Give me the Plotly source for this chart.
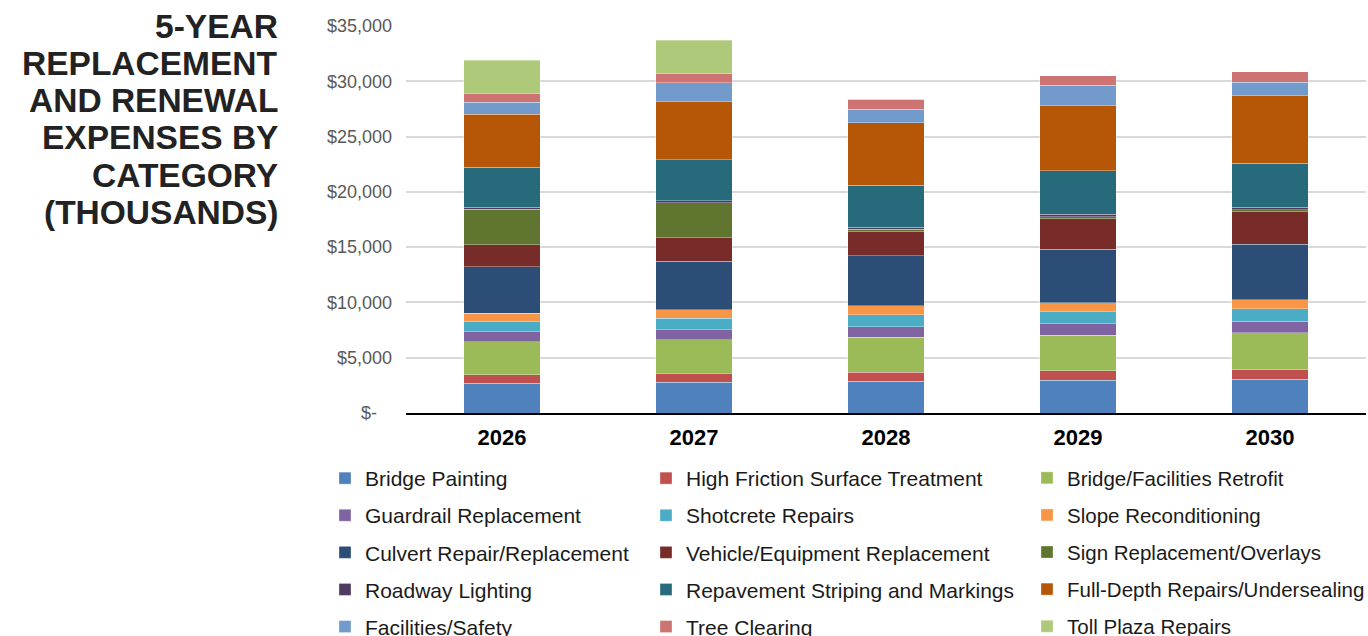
import plotly.graph_objects as go

years = ["2026", "2027", "2028", "2029", "2030"]

categories = [
    "Bridge Painting", "High Friction Surface Treatment", "Bridge/Facilities Retrofit",
    "Guardrail Replacement", "Shotcrete Repairs", "Slope Reconditioning",
    "Culvert Repair/Replacement", "Vehicle/Equipment Replacement", "Sign Replacement/Overlays",
    "Roadway Lighting", "Repavement Striping and Markings", "Full-Depth Repairs/Undersealing",
    "Facilities/Safety", "Tree Clearing", "Toll Plaza Repairs",
]

bridge_painting = [2700, 2770, 2850, 2980, 3070]
high_friction = [750, 810, 850, 840, 840]
bridge_retrofit = [2980, 3040, 3130, 3230, 3370]
guardrail = [910, 930, 970, 1040, 1030]
shotcrete = [930, 1000, 1080, 1090, 1140]
slope = [750, 780, 810, 780, 810]
culvert = [4210, 4400, 4550, 4850, 5010]
vehicle = [1990, 2110, 2160, 2770, 2940]
sign = [3230, 3160, 220, 180, 180]
roadway_lighting = [150, 210, 180, 220, 220]
repavement = [3610, 3680, 3800, 3910, 3970]
full_depth = [4790, 5270, 5650, 5900, 6110]
facilities_safety = [1090, 1690, 1230, 1840, 1210]
tree_clearing = [840, 840, 900, 870, 960]
toll_plaza = [2980, 3040, 0, 0, 0]

series = [bridge_painting, high_friction, bridge_retrofit, guardrail, shotcrete, slope,
          culvert, vehicle, sign, roadway_lighting, repavement, full_depth,
          facilities_safety, tree_clearing, toll_plaza]

colors = ["#4F81BD", "#C0504D", "#9BBB59", "#8064A2", "#4BACC6", "#F79646",
          "#2C4D75", "#772C2A", "#5F7530", "#4D3B62", "#276A7C", "#B65708",
          "#729ACA", "#CD7371", "#AFC97A"]

y_tickvals = [0, 5000, 10000, 15000, 20000, 25000, 30000, 35000]
y_ticktext = ["$-\u00a0\u00a0\u00a0", "$5,000", "$10,000", "$15,000", "$20,000",
              "$25,000", "$30,000", "$35,000"]

title_lines = ["5-YEAR", "REPLACEMENT", "AND RENEWAL", "EXPENSES BY", "CATEGORY", "(THOUSANDS)"]

FONT = "Liberation Sans, Arial, Helvetica, sans-serif"
W, H = 1368, 636
ML, MR, MT, MB = 406, 2, 26, 223
PW, PH = W - ML - MR, H - MT - MB

def px_x(p):
    return (p - ML) / PW

def px_y(p):
    return (H - MB - p) / PH

fig = go.Figure()
legend_ids = ["legend", "legend2", "legend3"]
for i, (name, vals, col) in enumerate(zip(categories, series, colors)):
    fig.add_trace(go.Bar(
        x=years, y=vals, name=name,
        marker=dict(color=col, line=dict(color="rgba(255,255,255,0.55)", width=0.6)),
        legend=legend_ids[i % 3], legendgroup=name,
    ))

def legend_cfg(x_px, font_size, gap):
    return dict(
        x=px_x(x_px), y=px_y(458),
        orientation="v", xanchor="left", yanchor="top",
        font=dict(family=FONT, size=font_size, color="#1a1a1a"),
        tracegroupgap=gap, traceorder="grouped", bgcolor="rgba(0,0,0,0)",
    )

fig.update_layout(
    legend=legend_cfg(325, 21, 6.8),
    legend2=legend_cfg(646, 21, 6.8),
    legend3=legend_cfg(1027, 20.5, 7.45),
)

title_y = [26, 63, 100, 137.5, 175, 212]
for line, yy in zip(title_lines, title_y):
    fig.add_annotation(
        text=f"<b>{line}</b>", x=px_x(280), y=px_y(yy), xref="paper", yref="paper",
        xanchor="right", yanchor="middle", showarrow=False,
        font=dict(family=FONT, size=33.5, color="#222222"),
    )

fig.update_layout(
    width=W, height=H,
    margin=dict(l=ML, r=MR, t=MT, b=MB, pad=0, autoexpand=False),
    paper_bgcolor="white", plot_bgcolor="white",
    barmode="stack", bargap=0.604,
    showlegend=True,
    xaxis=dict(
        type="category", showgrid=False, showline=True, linecolor="#000000", linewidth=2,
        tickfont=dict(family=FONT, size=22, color="#000000", weight="bold"),
        ticks="", ticklabelstandoff=4, automargin=False,
    ),
    yaxis=dict(
        range=[0, 35000], tickvals=y_tickvals, ticktext=y_ticktext,
        showgrid=True, gridcolor="#d9d9d9", gridwidth=1.5, zeroline=False,
        tickfont=dict(family=FONT, size=18, color="#595959"),
        ticks="", ticklabelstandoff=13, showline=False, automargin=False,
    ),
)

fig.write_html("out.html")
